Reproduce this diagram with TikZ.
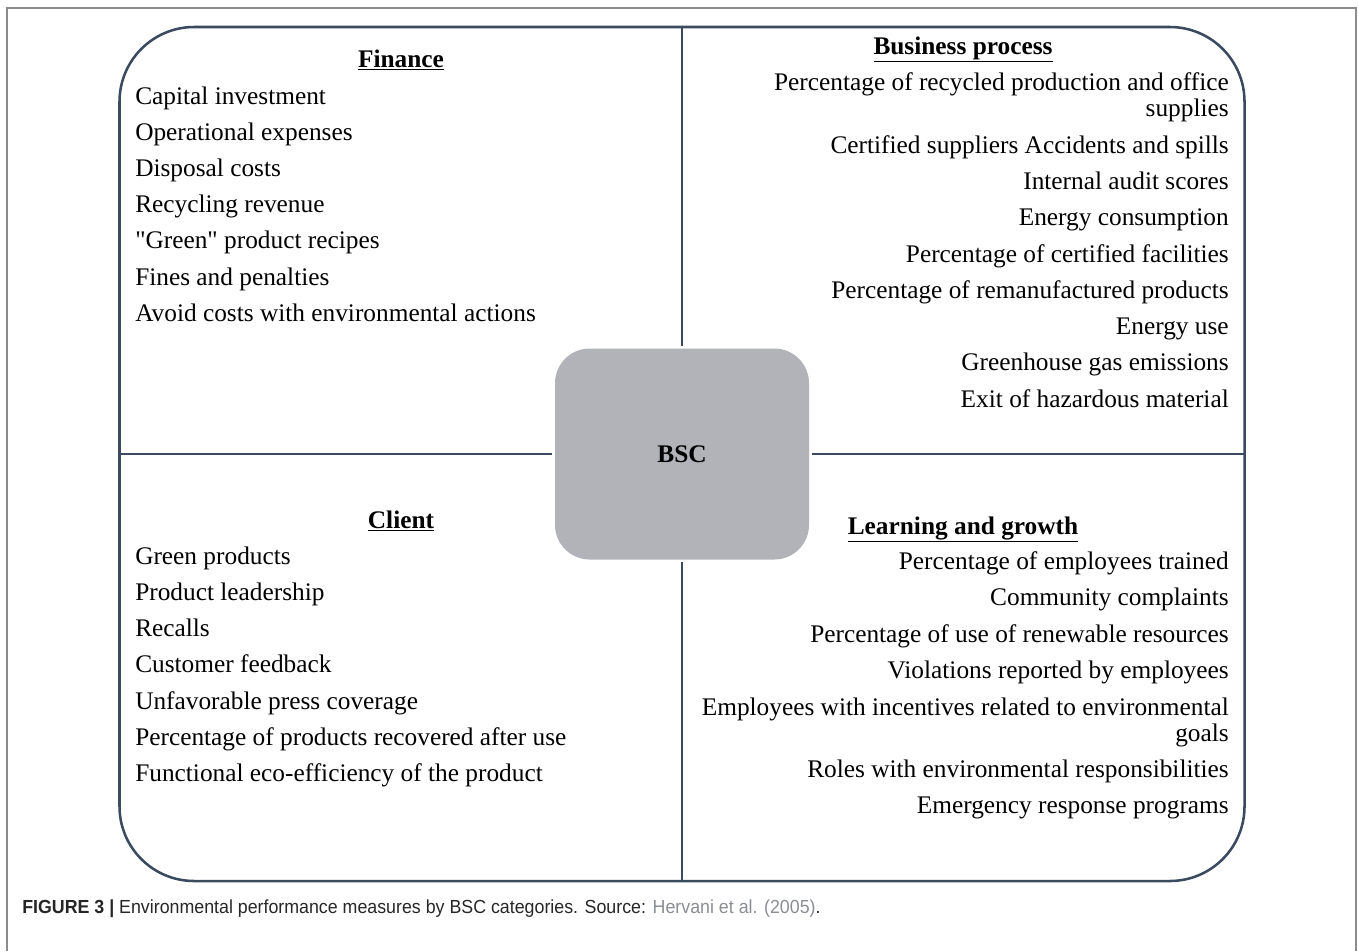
\documentclass[tikz,border=0pt]{standalone}
\usepackage{fontspec}
\setmainfont{Liberation Serif}
\newfontfamily\rawserif{Liberation Serif}
\newfontfamily\capfont[FakeStretch=0.94]{Liberation Sans}
\newcommand{\dq}{{\rawserif\char34}}
\usepackage{tikz}
\definecolor{linecol}{HTML}{3B4A5E}
\definecolor{bscgray}{HTML}{B1B3B8}
\definecolor{citegray}{HTML}{8A8D93}
\definecolor{pagegray}{HTML}{8C8C8C}
\usetikzlibrary{positioning, shapes}
\tikzstyle{outline} = [draw=linecol, line width=1.9pt, rectangle, rounded corners=56pt, minimum width=843.75pt, minimum height=640.5pt, inner sep=0pt]
\tikzstyle{core} = [fill=bscgray, rectangle, rounded corners=26pt, minimum width=190.5pt, minimum height=158.25pt, font=\fontsize{19}{19.5}\selectfont\bfseries]
\tikzstyle{divider} = [draw=linecol, line width=1.9pt, shorten >=2pt]
\tikzstyle{heading} = [anchor=base, inner sep=0pt, font=\fontsize{19}{19.5}\selectfont\bfseries]
\tikzstyle{item} = [inner sep=0pt, align=right, font=\fontsize{19}{19.5}\selectfont]

\begin{document}
\begin{tikzpicture}[x=0.75pt, y=-0.75pt]
    \useasboundingbox (0,0) rectangle (1358,951);
    % page border
    \draw [pagegray, line width=1.2pt] (7,951) -- (7,8) -- (1356,8) -- (1356,951);

    % Place the blocks
    \node [outline] (frame) at (682,454) {};
    \node [core] (bsc) at (682,454) {BSC};

    % Connect the nodes
    \draw [divider] (frame.north) -- (bsc);
    \draw [divider] (frame.south) -- (bsc);
    \draw [divider] (frame.west) -- (bsc);
    \draw [divider] (frame.east) -- (bsc);

    % Headings
    \node [heading] (finance) at (401,67) {\underline{Finance}};
    \node [heading] (process) at (963,54) {\underline{Business process}};
    \node [heading] (client) at (401,528) {\underline{Client}};
    \node [heading] (learning) at (963,534) {\underline{Learning and growth}};

    % Lists
    \foreach \txt [count=\i from 0] in {Capital investment, Operational expenses, Disposal costs, Recycling revenue, {\dq Green\dq{} product recipes}, Fines and penalties, Avoid costs with environmental actions}
        \node [item, anchor=base west] (fin\i) at (135,104+36.2*\i) {\txt};
    \foreach \txt [count=\i from 0] in {Green products, Product leadership, Recalls, Customer feedback, Unfavorable press coverage, Percentage of products recovered after use, Functional eco-efficiency of the product}
        \node [item, anchor=base west] (cli\i) at (135,564+36.3*\i) {\txt};
    \foreach \y/\txt [count=\i from 0] in {116/{Percentage of recycled production and office\\ supplies}, 153/Certified suppliers Accidents and spills, 189/Internal audit scores, 225/Energy consumption, 262/Percentage of certified facilities, 298/Percentage of remanufactured products, 334/Energy use, 370/Greenhouse gas emissions, 407/Exit of hazardous material}
        \node [item, anchor=base east] (bp\i) at (1229,\y) {\txt};
    \foreach \y/\txt [count=\i from 0] in {569/Percentage of employees trained, 605/Community complaints, 642/Percentage of use of renewable resources, 678/Violations reported by employees, 741/{Employees with incentives related to environmental\\ goals}, 777/Roles with environmental responsibilities, 813/Emergency response programs}
        \node [item, anchor=base east] (lg\i) at (1229,\y) {\txt};

    % Caption
    \node [anchor=base west, inner sep=0pt, font=\capfont\fontsize{14.2}{16}\selectfont, text=black!85] (caption) at (22,913) {\textbf{FIGURE 3 |} Environmental performance measures by BSC categories. Source: \textcolor{citegray}{Hervani et al. (2005)}.};
\end{tikzpicture}
\end{document}
